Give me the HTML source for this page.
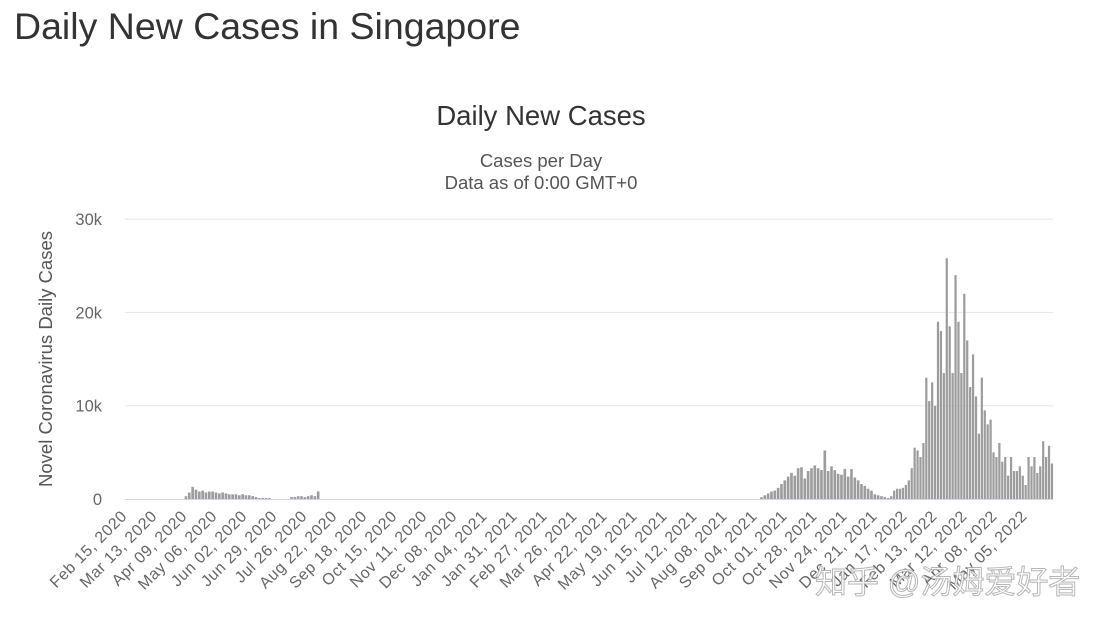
<!DOCTYPE html>
<html><head><meta charset="utf-8"><style>
html,body{margin:0;padding:0;background:#fff;}
svg{display:block;font-family:"Liberation Sans","DejaVu Sans","Noto Sans CJK SC",sans-serif;}
</style></head><body>
<svg id="chart" width="1111" height="629">
<text x="14" y="39" font-size="37.5" fill="#333">Daily New Cases in Singapore</text>
<text x="541" y="125" font-size="27.5" fill="#333" text-anchor="middle">Daily New Cases</text>
<text x="541" y="167" font-size="18.5" fill="#555" text-anchor="middle">Cases per Day</text>
<text x="541" y="189" font-size="18.5" fill="#555" text-anchor="middle">Data as of 0:00 GMT+0</text>
<text transform="translate(52,359) rotate(-90)" font-size="18.5" fill="#555" text-anchor="middle">Novel Coronavirus Daily Cases</text>
<g id="grid"></g><g id="bars"></g><g id="xlabels"></g>
<text x="815" y="593" font-size="32" fill="#fff" stroke="#aaa" stroke-width="1" opacity="0.85">知乎 @汤姆爱好者</text>
</svg>
<script>
const yTicks=[0,10,20,30];
const yTickLabels=["0","10k","20k","30k"];
const xTickLabels=["Feb 15, 2020","Mar 13, 2020","Apr 09, 2020","May 06, 2020","Jun 02, 2020","Jun 29, 2020","Jul 26, 2020","Aug 22, 2020","Sep 18, 2020","Oct 15, 2020","Nov 11, 2020","Dec 08, 2020","Jan 04, 2021","Jan 31, 2021","Feb 27, 2021","Mar 26, 2021","Apr 22, 2021","May 19, 2021","Jun 15, 2021","Jul 12, 2021","Aug 08, 2021","Sep 04, 2021","Oct 01, 2021","Oct 28, 2021","Nov 24, 2021","Dec 21, 2021","Jan 17, 2022","Feb 13, 2022","Mar 12, 2022","Apr 08, 2022","May 05, 2022"];
const tickIntervalDays=27;
// case values in thousands, each bin spans binDays starting at startDay (days since Feb 15, 2020)
const wave1Start=51, wave1Bin=3;
const wave1=[0.3,0.7,1.3,1.0,0.8,0.9,0.7,0.8,0.8,0.7,0.6,0.7,0.6,0.5,0.5,0.5,0.4,0.5,0.4,0.4,0.3,0.2,0.1,0.1,0.1,0.1];
const wave1bStart=146, wave1bBin=3;
const wave1b=[0.2,0.2,0.3,0.3,0.2,0.3,0.4,0.3,0.8];
const wave2Start=569, wave2Bin=3;
const wave2=[0.2,0.4,0.6,0.8,0.9,1.2,1.6,2.0,2.4,2.8,2.5,3.3,3.4,2.2,3.0,3.3,3.6,3.3,3.1,5.2,3.0,3.5,3.1,2.7,2.6,3.2,2.4,3.2,2.3,2.0,1.6,1.4,1.1,0.9,0.5,0.4,0.3,0.2,0.1];
const wave3Start=686, wave3Bin=2.63;
const wave3=[0.3,0.9,1.1,1.1,1.2,1.5,2.0,3.3,5.5,5.2,4.5,6.0,13.0,10.5,12.5,10.0,19.0,18.0,13.5,25.8,18.5,13.5,24.0,19.0,13.5,22.0,17.0,12.0,15.5,11.0,7.0,13.0,9.5,8.0,8.5,5.0,4.5,6.0,4.0,4.5,2.5,4.5,3.0,3.0,3.5,2.5,1.5,4.5,3.5,4.5,2.8,3.5,6.2,4.5,5.7,3.8];

const NS="http://www.w3.org/2000/svg";
const x0=128, pxDay=1.111, plotL=125, plotR=1053;
const yBase=499, pxK=9.33;
function xs(d){return x0+d*pxDay;}
function ys(v){return yBase-v*pxK;}
function mk(tag,attrs,parent){const e=document.createElementNS(NS,tag);for(const k in attrs)e.setAttribute(k,attrs[k]);parent.appendChild(e);return e;}
const grid=document.getElementById('grid');
yTicks.forEach((t,i)=>{
  if(t>0){const l=mk('line',{x1:plotL,x2:plotR,y1:ys(t),y2:ys(t),stroke:'#e6e6e6','stroke-width':1},grid);
  
  }
  const tx=mk('text',{x:102,y:ys(t)+6,'font-size':16.5,fill:'#666','text-anchor':'end'},grid);
  tx.textContent=yTickLabels[i];
  
  
});
const bars=document.getElementById('bars');
function drawWave(start,bin,vals){
  vals.forEach((v,i)=>{
    const xa=xs(start+i*bin), xb=xs(start+(i+1)*bin);
    const r=mk('rect',{x:xa,y:ys(v),width:Math.max(0.8,xb-xa-0.7),height:v*pxK,fill:'#9c9c9c'},bars);
    
    
  });
}
drawWave(wave1Start,wave1Bin,wave1);
drawWave(wave1bStart,wave1bBin,wave1b);
drawWave(wave2Start,wave2Bin,wave2);
drawWave(wave3Start,wave3Bin,wave3);
const ax=mk('line',{x1:plotL,x2:plotR,y1:yBase+0.5,y2:yBase+0.5,stroke:'#ccd6eb','stroke-width':1},bars);


const xl=document.getElementById('xlabels');
xTickLabels.forEach((lab,i)=>{
  const x=xs(i*tickIntervalDays);
  const t=mk('text',{transform:`translate(${x},517) rotate(-45)`,'font-size':16,'letter-spacing':0.6,fill:'#666','text-anchor':'end'},xl);
  t.textContent=lab;
  
  
});
</script>
</body></html>
